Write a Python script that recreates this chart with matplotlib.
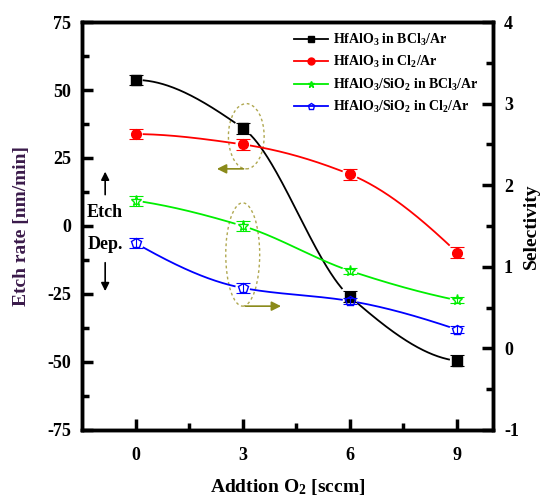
import numpy as np
import matplotlib
matplotlib.use("Agg")
import matplotlib.pyplot as plt
from matplotlib.patches import Ellipse

# ---- data ----
o2_flow = [0, 3, 6, 9]
etch_hfalo_bcl3 = [53.7, 36.0, -26.0, -49.6]
etch_hfalo_cl2 = [33.8, 30.0, 19.0, -9.8]
sel_bcl3 = [1.81, 1.50, 0.95, 0.59]
sel_cl2 = [1.29, 0.74, 0.58, 0.23]
err_etch = [2.0, 2.0, 2.0, 2.0]
err_sel = [0.06, 0.06, 0.04, 0.04]
labels = [r"HfAlO$_3$ in BCl$_3$/Ar", r"HfAlO$_3$ in Cl$_2$/Ar",
          r"HfAlO$_3$/SiO$_2$ in BCl$_3$/Ar", r"HfAlO$_3$/SiO$_2$ in Cl$_2$/Ar"]
xticks = [0, 3, 6, 9]

plt.rcParams['font.family'] = ['Liberation Serif', 'DejaVu Serif']
plt.rcParams['font.weight'] = 'bold'
plt.rcParams['axes.unicode_minus'] = False
plt.rcParams['mathtext.fontset'] = 'custom'
plt.rcParams['mathtext.rm'] = 'Liberation Serif:bold'
plt.rcParams['mathtext.it'] = 'Liberation Serif:bold'
plt.rcParams['mathtext.bf'] = 'Liberation Serif:bold'

fig = plt.figure(figsize=(5.5, 5.01), dpi=100)
ax = fig.add_axes([0.149, 0.142, 0.747, 0.814])
ax2 = ax.twinx()

def _end_slope(h0, h1, d0, d1):
    m = ((2 * h0 + h1) * d0 - h0 * d1) / (h0 + h1)
    if np.sign(m) != np.sign(d0):
        m = 0.0
    elif np.sign(d0) != np.sign(d1) and abs(m) > abs(3 * d0):
        m = 3 * d0
    return m

def pchip(x, y, xs):
    h = np.diff(x)
    d = np.diff(y) / h
    n = len(x)
    m = np.zeros(n)
    for k in range(1, n - 1):
        if d[k - 1] * d[k] > 0:
            w1 = 2 * h[k] + h[k - 1]
            w2 = h[k] + 2 * h[k - 1]
            m[k] = (w1 + w2) / (w1 / d[k - 1] + w2 / d[k])
    m[0] = _end_slope(h[0], h[1], d[0], d[1])
    m[-1] = _end_slope(h[-1], h[-2], d[-1], d[-2])
    out = np.empty_like(xs)
    for i, xv in enumerate(xs):
        k = min(np.searchsorted(x, xv, side='right') - 1, n - 2)
        t = (xv - x[k]) / h[k]
        h00 = 2 * t**3 - 3 * t**2 + 1
        h10 = t**3 - 2 * t**2 + t
        h01 = -2 * t**3 + 3 * t**2
        h11 = t**3 - t**2
        out[i] = h00 * y[k] + h10 * h[k] * m[k] + h01 * y[k + 1] + h11 * h[k] * m[k + 1]
    return out

def smooth(x, y, gap=0.22):
    xs = np.linspace(x[0], x[-1], 400)
    ys = pchip(x, y, xs)
    for xi in x:
        ys[np.abs(xs - xi) < gap] = np.nan
    return xs, ys

def draw(a, y, err, color, marker, mfc, label):
    xs, ys = smooth(np.array(o2_flow, float), np.array(y, float))
    a.plot(xs, ys, color=color, lw=1.3)
    a.errorbar(o2_flow, y, yerr=err, fmt='none', ecolor=color, elinewidth=0.8,
               capsize=5, capthick=0.8)
    a.plot(o2_flow, y, ls='none', marker=marker, ms=8 if marker == '*' else 7,
           mfc=mfc, mec=color, mew=1.0)
    return a.plot([], [], color=color, lw=1.3, marker=marker, ms=5,
                  mfc=mfc, mec=color, label=label)[0]

h1 = draw(ax, etch_hfalo_bcl3, err_etch, 'black', 's', 'black', labels[0])
h2 = draw(ax, etch_hfalo_cl2, err_etch, 'red', 'o', 'red', labels[1])
h3 = draw(ax2, sel_bcl3, err_sel, '#00ee00', '*', 'none', labels[2])
h4 = draw(ax2, sel_cl2, err_sel, 'blue', 'p', 'none', labels[3])

ax.set_xlim(-1.5, 10)
ax.set_ylim(-75, 75)
ax2.set_ylim(-1, 4)
ax.set_xticks(xticks)
ax.set_xticks([1.5, 4.5, 7.5], minor=True)
ax.set_yticks([75, 50, 25, 0, -25, -50, -75])
ax.set_yticks([62.5, 37.5, 12.5, -12.5, -37.5, -62.5], minor=True)
ax2.set_yticks([4, 3, 2, 1, 0, -1])
ax2.set_yticks([3.5, 2.5, 1.5, 0.5, -0.5], minor=True)

for a in (ax, ax2):
    for s in a.spines.values():
        s.set_linewidth(2.5)
    a.tick_params(which='major', direction='in', length=8, width=2.5, labelsize=13, pad=8)
    a.tick_params(which='minor', direction='in', length=5, width=2.5)
ax.tick_params(axis='x', pad=12)
ax.tick_params(axis='y', right=False)
ax2.tick_params(axis='y', left=False)
for t in ax.get_xticklabels() + ax.get_yticklabels() + ax2.get_yticklabels():
    t.set_fontweight('bold')

ax.set_xlabel(r"Addtion O$_2$ [sccm]", fontsize=14, fontweight='bold', labelpad=10)
ax.set_ylabel("Etch rate [nm/min]", fontsize=14, fontweight='bold', color='#3a1a4a', labelpad=12)
ax2.set_ylabel("Selectivity", fontsize=14, fontweight='bold', labelpad=3)

leg = ax2.legend(handles=[h1, h2, h3, h4], loc='upper right', frameon=False,
                 fontsize=10, handlelength=2.4, handletextpad=0.4, labelspacing=0.45,
                 borderaxespad=0.3, bbox_to_anchor=(0.99, 1.0))
for t in leg.get_texts():
    t.set_fontweight('bold')

# annotations
olive = '#8a8a1a'
ax.add_patch(Ellipse((3.1, 33), 1.0, 24, fill=False, ls=(0, (2, 2)), lw=1.0, ec='#b0a850'))
ax.annotate('', xy=(2.2, 21), xytext=(3.1, 21),
            arrowprops=dict(arrowstyle='-|>', color=olive, lw=1.2, mutation_scale=14))
ax.add_patch(Ellipse((3.0, -10.5), 0.95, 38, fill=False, ls=(0, (2, 2)), lw=1.0, ec='#b0a850'))
ax.annotate('', xy=(4.15, -29.5), xytext=(3.0, -29.5),
            arrowprops=dict(arrowstyle='-|>', color=olive, lw=1.2, mutation_scale=14))
ax.text(-0.85, 5, "Etch", fontsize=13, fontweight='bold', ha='center', va='center')
ax.text(-0.85, -7, "Dep.", fontsize=13, fontweight='bold', ha='center', va='center')
ax.annotate('', xy=(-0.85, 21), xytext=(-0.85, 10.5),
            arrowprops=dict(arrowstyle='-|>', color='black', lw=1.2, mutation_scale=12))
ax.annotate('', xy=(-0.85, -25), xytext=(-0.85, -12.5),
            arrowprops=dict(arrowstyle='-|>', color='black', lw=1.2, mutation_scale=12))

fig.savefig('out.png', dpi=100)
